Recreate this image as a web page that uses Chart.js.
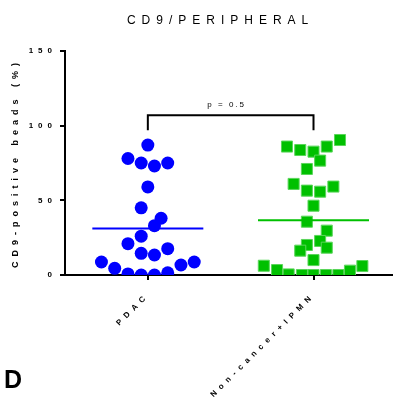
<!DOCTYPE html>
<html>
<head>
<meta charset="utf-8">
<script src="https://cdn.jsdelivr.net/npm/chart.js@4.4.0/dist/chart.umd.min.js"></script>
<style>
    html, body { margin: 0; padding: 0; background: #fff; }
    #grafico { display: block; }
</style>
</head>
<body>
<canvas id="grafico" width="401" height="401"></canvas>
<script>
// Dados
const grupos = ['PDAC', 'Non-cancer+IPMN'];
const yTicks = [0, 50, 100, 150];
const pdacValores = [87, 78, 75, 73, 75, 59, 45, 38, 33, 26, 21, 17.6, 14.5, 13.4, 8.7, 8.7, 4.5, 6.7, 0.7, 0, 0, 1.5];
const pdacDesvio = [0, -0.12, -0.04, 0.04, 0.12, 0, -0.04, 0.08, 0.04, -0.04, -0.12, 0.12, -0.04, 0.04, -0.28, 0.28, -0.2, 0.2, -0.12, -0.04, 0.04, 0.12];
const ncValores = [86, 83.7, 82.6, 86, 90.4, 76.6, 71, 61, 56.5, 55.8, 59.2, 46.4, 35.7, 29.7, 22.8, 20.1, 18.3, 16.3, 10, 6.2, 3.3, 0.4, 0, 0, 0, 0, 2.9, 6];
const ncDesvio = [-0.16, -0.08, 0, 0.08, 0.16, 0.04, -0.04, -0.12, -0.04, 0.04, 0.12, 0, -0.04, 0.08, 0.04, -0.04, 0.08, -0.08, 0, -0.3, -0.22, -0.15, -0.07, 0, 0.075, 0.15, 0.22, 0.295];
const textoP = 'p = 0.5';
const colcheteTopo = 107;
const colcheteBase = 97;

const fonte = '"Liberation Sans", Arial, sans-serif';

function media(v) {
    return v.reduce((s, a) => s + a, 0) / v.length;
}

function pontos(valores, desvio, pos) {
    return valores.map((v, i) => ({ x: pos + desvio[i], y: v }));
}

function linhaMedia(valores, pos) {
    const m = media(valores);
    return [{ x: pos - 0.335, y: m }, { x: pos + 0.335, y: m }];
}

// Colchete, valor de p, título e letra do painel
const extras = {
    id: 'extras',
    beforeDraw(chart) {
        chart.ctx.letterSpacing = '5px';
    },
    afterDraw(chart) {
        const { ctx, chartArea, scales: { x, y } } = chart;
        ctx.save();
        const x1 = x.getPixelForValue(1);
        const x2 = x.getPixelForValue(2);
        const yt = y.getPixelForValue(colcheteTopo);
        const yb = y.getPixelForValue(colcheteBase);
        ctx.strokeStyle = '#000';
        ctx.lineWidth = 2;
        ctx.beginPath();
        ctx.moveTo(x1, yb);
        ctx.lineTo(x1, yt);
        ctx.lineTo(x2, yt);
        ctx.lineTo(x2, yb);
        ctx.stroke();

        ctx.fillStyle = '#000';
        ctx.textAlign = 'center';
        ctx.textBaseline = 'alphabetic';
        ctx.letterSpacing = '2px';
        ctx.font = '8px ' + fonte;
        ctx.fillText(textoP, (x1 + x2) / 2 - 4, yt - 8);

        ctx.letterSpacing = '6px';
        ctx.font = '12px ' + fonte;
        ctx.fillText('CD9/PERIPHERAL', (chartArea.left + chartArea.right) / 2 - 8, 24);

        ctx.letterSpacing = '0px';
        ctx.font = 'bold 25px ' + fonte;
        ctx.textAlign = 'left';
        ctx.fillText('D', 4, 388);
        ctx.restore();
    }
};

const ctx = document.getElementById('grafico').getContext('2d');
new Chart(ctx, {
    type: 'scatter',
    data: {
        datasets: [
            {
                label: 'média PDAC',
                data: linhaMedia(pdacValores, 1),
                showLine: true,
                borderColor: '#0000ff',
                borderWidth: 2,
                pointRadius: 0
            },
            {
                label: 'média Non-cancer',
                data: linhaMedia(ncValores, 2),
                showLine: true,
                borderColor: '#00c000',
                borderWidth: 2,
                pointRadius: 0
            },
            {
                label: grupos[0],
                data: pontos(pdacValores, pdacDesvio, 1),
                pointStyle: 'circle',
                pointRadius: 6.5,
                backgroundColor: '#0000ff',
                borderColor: '#0000ff',
                borderWidth: 0
            },
            {
                label: grupos[1],
                data: pontos(ncValores, ncDesvio, 2),
                pointStyle: 'rect',
                pointRadius: 7.8,
                backgroundColor: '#00c000',
                borderColor: '#5ad65a',
                borderWidth: 1
            }
        ]
    },
    options: {
        responsive: false,
        animation: false,
        devicePixelRatio: 1,
        layout: { padding: { top: 51, right: 1, left: 0, bottom: 0 } },
        plugins: {
            legend: { display: false },
            tooltip: { enabled: false }
        },
        scales: {
            x: {
                type: 'linear',
                min: 0.5,
                max: 2.475,
                afterBuildTicks: s => { s.ticks = grupos.map((g, i) => ({ value: i + 1 })); },
                afterFit: s => { s.height = 126; s.paddingRight = 0; },
                grid: { drawOnChartArea: false, drawTicks: true, tickLength: 5, color: '#000', lineWidth: 2 },
                border: { display: true, color: '#000', width: 2 },
                ticks: {
                    autoSkip: false,
                    minRotation: 45,
                    maxRotation: 45,
                    padding: 11,
                    color: '#000',
                    font: { family: fonte, size: 8, weight: 'bold' },
                    callback: v => grupos[v - 1]
                }
            },
            y: {
                min: 0,
                max: 150,
                afterBuildTicks: s => { s.ticks = yTicks.map(v => ({ value: v })); },
                afterFit: s => { s.width = 65; },
                grid: { drawOnChartArea: false, drawTicks: true, tickLength: 5, color: '#000', lineWidth: 2 },
                border: { display: true, color: '#000', width: 2 },
                ticks: {
                    padding: 3,
                    color: '#000',
                    font: { family: fonte, size: 8, weight: 'bold' }
                },
                title: {
                    display: true,
                    text: 'CD9-positive beads (%)',
                    color: '#000',
                    padding: { top: 10, bottom: 0 },
                    font: { family: fonte, size: 9, weight: 'bold' }
                }
            }
        }
    },
    plugins: [extras]
});
</script>
</body>
</html>
